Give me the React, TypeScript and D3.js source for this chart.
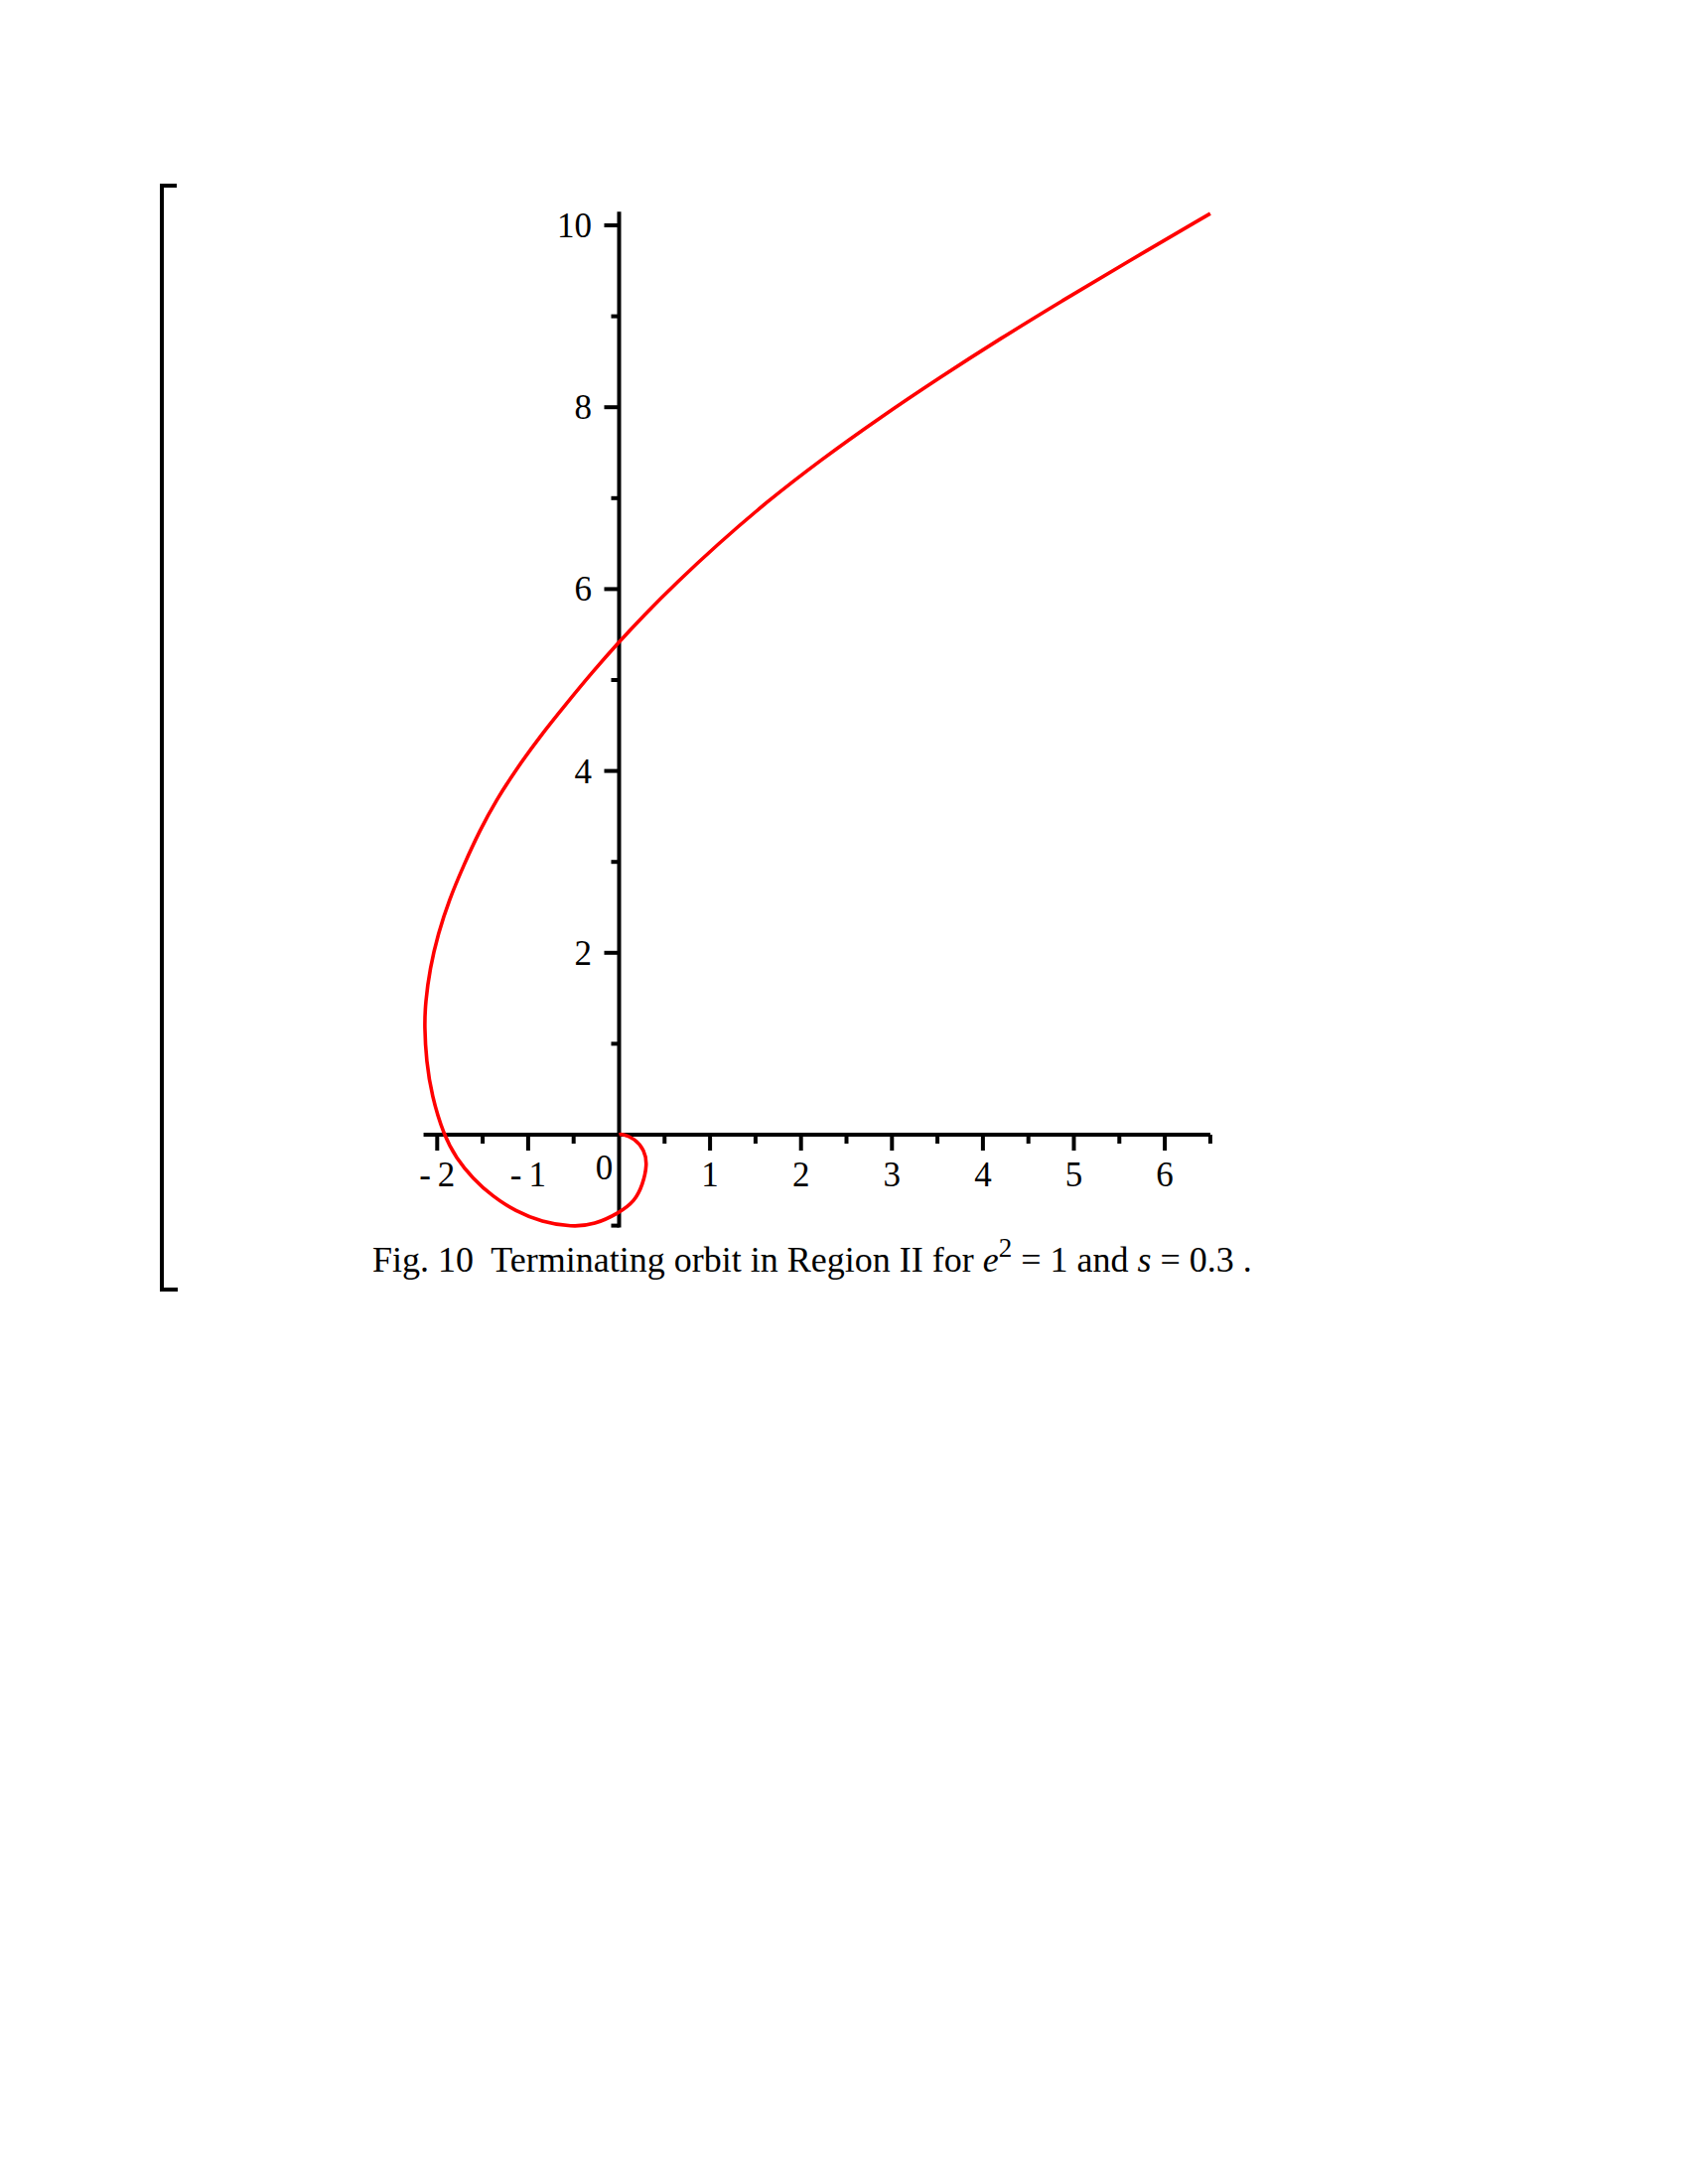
import React from 'react';
import * as d3 from 'd3';

// orbit points (x, y), from the origin outwards
const orbitX = [0, 0.03, 0.17, 0.28, 0.31, 0.26, 0.17, 0, -0.27, -0.52, -0.85, -1.14, -1.39, -1.61, -1.79, -1.93,
  -2.06, -2.12, -2.14, -2.13, -2.08, -1.99, -1.87, -1.71, -1.535, -1.35, -1.13, -0.87, -0.58, -0.3,
  0, 0.27, 0.63, 1.07, 1.61, 2.23, 2.86, 3.53, 4.2, 4.87, 5.54, 6.5];
const orbitY = [0, 0.01, -0.04, -0.17, -0.33, -0.55, -0.735, -0.86, -0.99, -1.015, -0.96, -0.84, -0.68, -0.48, -0.26, 0,
  0.43, 0.81, 1.19, 1.45, 1.83, 2.21, 2.58, 2.96, 3.34, 3.68, 4.02, 4.38, 4.74, 5.08,
  5.42, 5.71, 6.07, 6.48, 6.95, 7.43, 7.88, 8.33, 8.76, 9.17, 9.57, 10.13];

const xMajor = [-2, -1, 1, 2, 3, 4, 5, 6];
const xMinor = [-1.5, -0.5, 0.5, 1.5, 2.5, 3.5, 4.5, 5.5, 6.5];
const yMajor = [2, 4, 6, 8, 10];
const yMinor = [-1, 1, 3, 5, 7, 9];
const xDomain = [-2.15, 6.5];
const yDomain = [-1.02, 10.15];

const FONT = '"Liberation Serif", "Times New Roman", serif';

const App = () => {
  const unit = 91.6;
  const x = d3.scaleLinear().domain(xDomain).range([623.5 + xDomain[0] * unit, 623.5 + xDomain[1] * unit]);
  const y = d3.scaleLinear().domain(yDomain).range([1143 - yDomain[0] * unit, 1143 - yDomain[1] * unit]);

  const pts = orbitX.map((v, i) => [v, orbitY[i]]);
  const line = d3.line()
    .x(d => x(d[0]))
    .y(d => y(d[1]))
    .curve(d3.curveBasis);

  const x0 = x(0), y0 = y(0);
  const lbl = (v) => (v < 0 ? '-\u2009' + Math.abs(v) : String(v));

  return (
    <svg width={1700} height={2200} style={{ position: 'absolute', left: 0, top: 0, display: 'block', background: '#fff' }}>
      {/* worksheet bracket */}
      <path d="M178,187 H163 V1299 H179" fill="none" stroke="#000" strokeWidth={4} />

      {/* axes */}
      <line x1={x(xDomain[0])} x2={x(xDomain[1])} y1={y0} y2={y0} stroke="#000" strokeWidth={4} />
      <line x1={x0} x2={x0} y1={y(yDomain[0])} y2={y(yDomain[1])} stroke="#000" strokeWidth={4} />

      {xMajor.map(v => (
        <line key={'xM' + v} x1={x(v)} x2={x(v)} y1={y0} y2={y0 + 16} stroke="#000" strokeWidth={4} />
      ))}
      {xMinor.map(v => (
        <line key={'xm' + v} x1={x(v)} x2={x(v)} y1={y0} y2={y0 + 9} stroke="#000" strokeWidth={4} />
      ))}
      {yMajor.map(v => (
        <line key={'yM' + v} x1={x0 - 15} x2={x0} y1={y(v)} y2={y(v)} stroke="#000" strokeWidth={4} />
      ))}
      {yMinor.map(v => (
        <line key={'ym' + v} x1={x0 - 8} x2={x0} y1={y(v)} y2={y(v)} stroke="#000" strokeWidth={4} />
      ))}

      <g fontFamily={FONT} fontSize={35} fill="#000">
        {xMajor.map(v => (
          <text key={'xl' + v} x={x(v)} y={1195} textAnchor="middle">{lbl(v)}</text>
        ))}
        <text x={x0 - 15} y={1188} textAnchor="middle">0</text>
        {yMajor.map(v => (
          <text key={'yl' + v} x={596} y={y(v) + 12} textAnchor="end">{v}</text>
        ))}
      </g>

      {/* orbit */}
      <path d={line(pts)} fill="none" stroke="#ff0000" strokeWidth={3.6} strokeLinejoin="round" />

      {/* caption */}
      <text x={375} y={1281} fontFamily={FONT} fontSize={36} fill="#000">
        <tspan>{'Fig. 10\u00a0 Terminating orbit in Region II for '}</tspan>
        <tspan fontStyle="italic">e</tspan>
        <tspan fontSize={27} dy={-15}>2</tspan>
        <tspan dy={15}> = 1 and </tspan>
        <tspan fontStyle="italic">s</tspan>
        <tspan> = 0.3 .</tspan>
      </text>
    </svg>
  );
};

export default App;
